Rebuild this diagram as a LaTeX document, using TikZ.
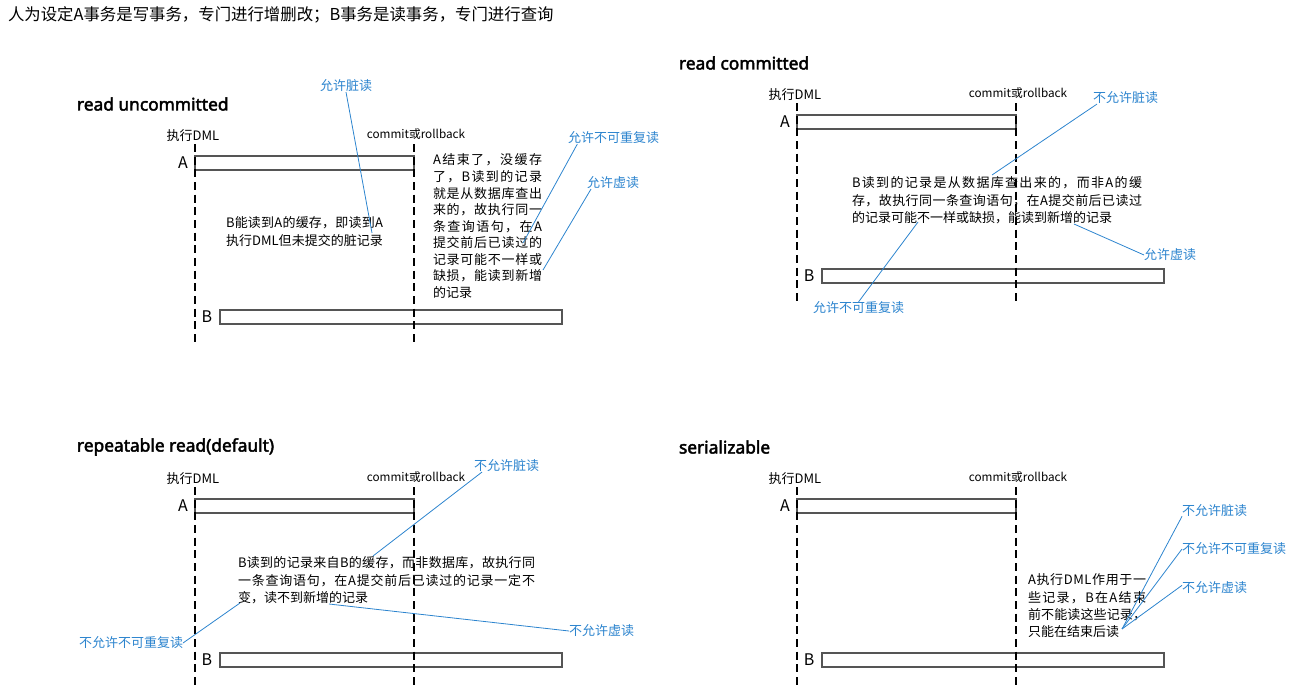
\documentclass[tikz,border=0pt]{standalone}
\usepackage{fontspec}
\setmainfont{Noto Sans CJK SC}
\newfontfamily\headfont{Noto Sans}[FakeBold=2.5]
\definecolor{lblue}{RGB}{44,132,206}
\definecolor{bargray}{RGB}{85,85,85}
\ExplSyntaxOn
\NewDocumentCommand\spreadto{mm}{\makebox[#1][s]{\tl_map_inline:nn{#2}{##1\hfil}\unskip}}
\ExplSyntaxOff
\tikzset{
 every node/.style={inner sep=0pt, outer sep=0pt},
 heading/.style={anchor=west, font=\headfont\fontsize{13}{15}\selectfont},
 small/.style={font=\fontsize{9.75}{13}\selectfont},
 note/.style={anchor=north west, align=left, font=\fontsize{9.75}{13.1}\selectfont},
 lbl/.style={anchor=west, text=lblue, font=\fontsize{9.75}{13}\selectfont},
 leader/.style={draw=lblue, line width=0.6pt},
 timeline/.style={draw=black, line width=1pt, dash pattern=on 6pt off 3.5pt},
 txbar/.style={draw=bargray, line width=1.1pt, anchor=north west, minimum height=10.5pt},
 txname/.style={font=\fontsize{12}{14}\selectfont},
}
\newcommand\txpanel[3]{%
 \begin{scope}[shift={(#2)}]
  \node[heading] (#1head) at (-118,-52) {#3};
  \node[small] (#1dml) at (-2,-20) {执行DML};
  \node[small, font=\fontsize{8.8}{12}\selectfont] (#1end) at (221,-22) {commit或rollback};
  \node[txbar, minimum width=164.25pt] (#1A) at (0,0) {};
  \node[txname] (#1Alab) at (-12,7) {A};
  \node[txbar, minimum width=256.5pt] (#1B) at (25,154) {};
  \node[txname] (#1Blab) at (12,161) {B};
  \coordinate (#1l0) at (0,-12); \coordinate (#1l1) at (0,186);
  \coordinate (#1r0) at (219,-12); \coordinate (#1r1) at (219,186);
  \draw[timeline] (#1l0) -- (#1l1);
  \draw[timeline] (#1r0) -- (#1r1);
 \end{scope}}
\begin{document}
\begin{tikzpicture}[x=0.75pt, y=-0.75pt]
\useasboundingbox (0,0) rectangle (1294,685);
\node[anchor=west, font=\fontsize{12.3}{14}\selectfont] (title) at (8,15) {人为设定A事务是写事务，专门进行增删改；B事务是读事务，专门进行查询};

\txpanel{p1}{195,156}{read uncommitted}
\txpanel{p2}{797,115}{read committed}
\txpanel{p3}{195,499}{repeatable read(default)}
\txpanel{p4}{797,499}{serializable}

% panel 1
\node[note] (p1n1) at (226,217) {\spreadto{117.75pt}{B能读到A的缓存，即读到A}\\\spreadto{117.75pt}{执行DML但未提交的脏记录}};
\node[note, font=\fontsize{9.75}{12.4}\selectfont] (p1n2) at (433,154) {\spreadto{81.75pt}{A结束了，没缓存}\\\spreadto{81.75pt}{了，B读到的记录}\\\spreadto{81.75pt}{就是从数据库查出}\\\spreadto{81.75pt}{来的，故执行同一}\\\spreadto{81.75pt}{条查询语句，在A}\\\spreadto{81.75pt}{提交前后已读过的}\\\spreadto{81.75pt}{记录可能不一样或}\\\spreadto{81.75pt}{缺损，能读到新增}\\的记录};
\node[lbl] (p1d) at (320,86) {允许脏读};
\node[lbl] (p1u) at (568,138) {允许不可重复读};
\node[lbl] (p1v) at (587,183) {允许虚读};
\coordinate (p1de) at (372,233);
\coordinate (p1ue) at (523,243);
\coordinate (p1ve) at (543,270);
\draw[leader] (p1d.south) -- (p1de);
\draw[leader] ([xshift=7pt]p1u.south west) -- (p1ue);
\draw[leader] ([xshift=3pt]p1v.south west) -- (p1ve);

% panel 2
\node[note] (p2n) at (852,177) {\spreadto{217.5pt}{B读到的记录是从数据库查出来的，而非A的缓}\\\spreadto{217.5pt}{存，故执行同一条查询语句，在A提交前后已读过}\\的记录可能不一样或缺损，能读到新增的记录};
\node[lbl] (p2d) at (1093,98) {不允许脏读};
\node[lbl] (p2v) at (1144,255) {允许虚读};
\node[lbl] (p2u) at (813,308) {允许不可重复读};
\coordinate (p2de) at (992,175);
\coordinate (p2ve) at (1074,224);
\coordinate (p2ue) at (918,222);
\draw[leader] ([xshift=3pt]p2d.south west) -- (p2de);
\draw[leader] (p2v.west) -- (p2ve);
\draw[leader] (p2u.north) -- (p2ue);

% panel 3
\node[note] (p3n) at (238,557) {\spreadto{222.75pt}{B读到的记录来自B的缓存，而非数据库，故执行同}\\\spreadto{222.75pt}{一条查询语句，在A提交前后已读过的记录一定不}\\变，读不到新增的记录};
\node[lbl] (p3d) at (474,466) {不允许脏读};
\node[lbl] (p3v) at (569,631) {不允许虚读};
\node[lbl] (p3u) at (79,643) {不允许不可重复读};
\coordinate (p3de) at (373,556);
\coordinate (p3ve) at (329,604);
\coordinate (p3ue) at (240,603);
\draw[leader] ([xshift=6pt]p3d.south west) -- (p3de);
\draw[leader] (p3v.west) -- (p3ve);
\draw[leader] (p3u.east) -- (p3ue);

% panel 4
\node[note, font=\fontsize{9.75}{12.8}\selectfont] (p4n) at (1028,574) {\spreadto{88.5pt}{A执行DML作用于一}\\\spreadto{88.5pt}{些记录，B在A结束}\\\spreadto{88.5pt}{前不能读这些记录，}\\只能在结束后读};
\node[lbl] (p4d) at (1182,511) {不允许脏读};
\node[lbl] (p4u) at (1182,549) {不允许不可重复读};
\node[lbl] (p4v) at (1182,588) {不允许虚读};
\coordinate (p4s) at (1122,629);
\draw[leader] (p4s) -- ([yshift=-4pt]p4d.west);
\draw[leader] (p4s) -- (p4u.west);
\draw[leader] (p4s) -- ([yshift=2pt]p4v.west);
\end{tikzpicture}
\end{document}
